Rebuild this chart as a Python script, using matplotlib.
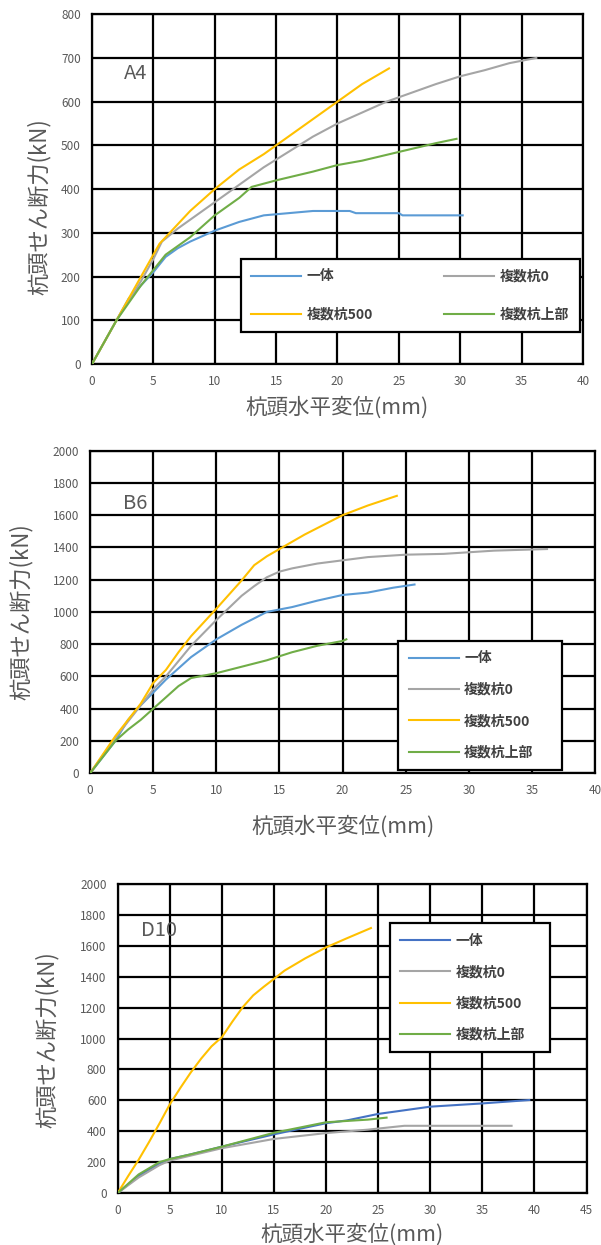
import matplotlib
matplotlib.use('Agg')
import matplotlib.pyplot as plt

plt.rcParams['font.family'] = ['Noto Sans CJK JP', 'DejaVu Sans']

# 系列名と色
names = ['一体', '複数杭0', '複数杭500', '複数杭上部']
colors_ab = ['#5B9BD5', '#A5A5A5', '#FFC000', '#70AD47']
colors_c = ['#4472C4', '#A5A5A5', '#FFC000', '#70AD47']

# A4
a_x = [
    [0, 2, 3, 4, 5, 6, 7, 8, 10, 12, 14, 16, 18, 21, 21.5, 25, 25.3, 30.2],
    [0, 2, 4, 5, 5.7, 7, 8, 10, 12, 14, 16, 18, 20, 22, 24, 26, 28, 30, 32, 34, 36.2],
    [0, 2, 4, 5, 5.5, 7, 8, 10, 12, 14, 16, 18, 20, 22, 24.2],
    [0, 2, 4, 5, 6, 8, 10, 12, 13, 15, 18, 20, 22, 25, 28, 29.7],
]
a_y = [
    [0, 100, 150, 180, 210, 245, 265, 280, 305, 325, 340, 345, 350, 350, 345, 345, 340, 340],
    [0, 100, 190, 240, 280, 310, 330, 370, 410, 450, 485, 520, 550, 575, 600, 620, 640, 658, 672, 688, 700],
    [0, 100, 200, 250, 275, 320, 350, 400, 445, 480, 520, 560, 600, 640, 676],
    [0, 100, 180, 215, 250, 290, 340, 380, 405, 420, 440, 455, 465, 485, 505, 515],
]

# B6
b_x = [
    [0, 2, 3, 4, 5, 6, 7, 8, 10, 12, 14, 16, 18, 20, 22, 24, 25.7],
    [0, 2, 4, 5, 6, 8, 10, 12, 13, 14, 15, 16, 18, 20, 22, 25, 28, 30, 32, 36.2],
    [0, 2, 4, 5, 6, 7, 8, 10, 12, 13, 14, 15, 17, 19, 20, 22, 24.3],
    [0, 1, 2, 3, 4, 5, 6, 7, 8, 10, 12, 14, 16, 18, 20, 20.3],
]
b_y = [
    [0, 200, 330, 420, 500, 580, 650, 720, 830, 920, 1000, 1030, 1070, 1105, 1120, 1150, 1170],
    [0, 220, 420, 520, 600, 790, 950, 1100, 1160, 1215, 1250, 1270, 1300, 1320, 1340, 1355, 1360, 1370, 1380, 1390],
    [0, 230, 430, 560, 640, 750, 850, 1020, 1195, 1290, 1345, 1390, 1480, 1560, 1600, 1660, 1720],
    [0, 100, 200, 270, 330, 400, 470, 540, 590, 620, 660, 700, 750, 790, 820, 830],
]

# D10
c_x = [
    [0, 2, 4, 5, 7, 10, 15, 20, 22, 25, 30, 35, 39.5],
    [0, 2, 4, 5, 10, 15, 20, 24, 27.5, 37.8],
    [0, 1, 2, 3, 4, 5, 6, 7, 8, 9, 10, 11, 12, 13, 14, 15, 16, 18, 20, 22, 24.3],
    [0, 2, 4, 5, 7, 10, 15, 20, 24, 25.8],
]
c_y = [
    [0, 110, 190, 220, 250, 300, 380, 452, 470, 512, 559, 580, 602],
    [0, 100, 180, 210, 290, 350, 388, 410, 435, 435],
    [0, 110, 215, 330, 450, 575, 680, 780, 870, 950, 1010, 1110, 1204, 1280, 1335, 1387, 1440, 1520, 1591, 1650, 1716],
    [0, 120, 200, 220, 250, 300, 390, 458, 475, 488],
]

panels = [
    dict(rect=[0.153, 0.7076, 0.817, 0.281], xs=a_x, ys=a_y, cols=colors_ab,
         xlim=40, xstep=5, ylim=800, ystep=100, tag='A4', tagpos=(2.6, 665),
         leg=(0.303, 0.091, 0.69, 0.2), ncol=2, lsp=1.75, order=[0, 2, 1, 3],
         ylab=(-0.083, 0.45), xlab_y=-0.125),
    dict(rect=[0.150, 0.379, 0.840, 0.259], xs=b_x, ys=b_y, cols=colors_ab,
         xlim=40, xstep=5, ylim=2000, ystep=200, tag='B6', tagpos=(2.6, 1670),
         leg=(0.61, 0.01, 0.325, 0.3), ncol=1, lsp=1.25, order=[0, 1, 2, 3],
         ylab=(-0.113, 0.5), xlab_y=-0.165),
    dict(rect=[0.196, 0.0418, 0.780, 0.248], xs=c_x, ys=c_y, cols=colors_c,
         xlim=45, xstep=5, ylim=2000, ystep=200, tag='D10', tagpos=(2.2, 1700),
         leg=(0.58, 0.456, 0.341, 0.3), ncol=1, lsp=1.25, order=[0, 1, 2, 3],
         ylab=(-0.126, 0.495), xlab_y=-0.135),
]

fig = plt.figure(figsize=(6.01, 12.45), dpi=100)

for p in panels:
    ax = fig.add_axes(p['rect'])
    lines = []
    for xs, ys, c, n in zip(p['xs'], p['ys'], p['cols'], names):
        ln, = ax.plot(xs, ys, color=c, lw=1.5, label=n, zorder=3)
        lines.append(ln)
    ax.set_xlim(0, p['xlim'])
    ax.set_ylim(0, p['ylim'])
    ax.set_xticks(range(0, p['xlim'] + 1, p['xstep']))
    ax.set_yticks(range(0, p['ylim'] + 1, p['ystep']))
    ax.grid(True, color='black', lw=1.6, zorder=1)
    ax.set_axisbelow(True)
    for s in ax.spines.values():
        s.set_color('black')
        s.set_linewidth(1.6)
    ax.tick_params(length=0, labelsize=8.5, labelcolor='#595959', pad=8)
    ax.set_xlabel('杭頭水平変位(mm)', fontsize=15.5, color='#595959', va='center')
    ax.xaxis.set_label_coords(0.5, p['xlab_y'])
    ax.set_ylabel('杭頭せん断力(kN)', fontsize=16, color='#595959')
    ax.yaxis.set_label_coords(*p['ylab'])
    ax.text(p['tagpos'][0], p['tagpos'][1], p['tag'], fontsize=14.5, color='#595959',
            va='center', zorder=4)
    # 凡例（A4は2列で行方向に並べる）
    hs = [lines[i] for i in p['order']]
    ls = [names[i] for i in p['order']]
    leg = ax.legend(hs, ls, loc='lower left', bbox_to_anchor=p['leg'], mode='expand', ncol=p['ncol'],
                    fancybox=False, framealpha=1, edgecolor='black', borderaxespad=0,
                    prop={'size': 10, 'weight': 'bold'}, handlelength=3.6, handletextpad=0.4,
                    labelspacing=p['lsp'], borderpad=0.75)
    leg.get_frame().set_linewidth(1.6)
    leg.set_zorder(5)
    for t in leg.get_texts():
        t.set_color('#404040')

fig.savefig('out.png', dpi=100)
